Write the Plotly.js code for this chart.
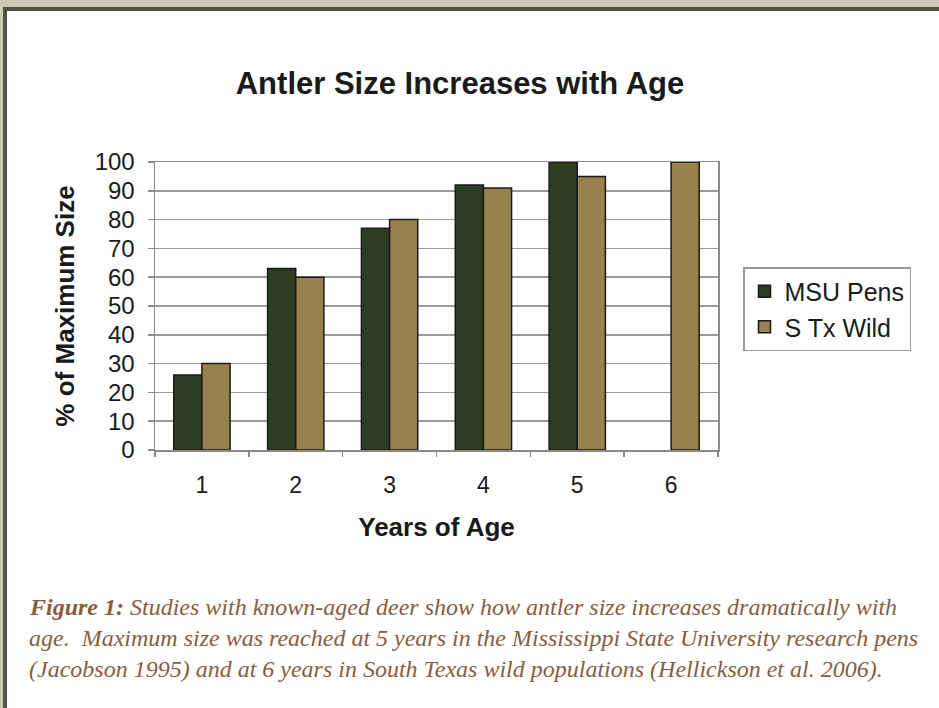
<!DOCTYPE html>
<html>
<head>
<meta charset="utf-8">
<script src="https://cdn.plot.ly/plotly-3.0.1.min.js"></script>
<style>
  html, body { margin: 0; padding: 0; width: 939px; height: 708px; overflow: hidden; background: #CDCAB4; }
  #frame { position: absolute; left: 3px; top: 7px; width: 940px; height: 710px; background: #ffffff;
           border-top: 4px solid #4E5540; border-left: 4px solid #4E5540; box-sizing: border-box; }
  #chart { position: absolute; left: 0; top: 0; width: 939px; height: 708px; }
</style>
</head>
<body>
<div id="frame"></div>
<div id="chart"></div>
<script>
// ---- data ----
const years = ['1', '2', '3', '4', '5', '6'];
const msuPens = [26, 63, 77, 92, 100, null];
const sTxWild = [30, 60, 80, 91, 95, 100];
const seriesNames = ['MSU Pens', 'S Tx Wild'];
const yTicks = [0, 10, 20, 30, 40, 50, 60, 70, 80, 90, 100];
const chartTitle = 'Antler Size Increases with Age';
const xTitle = 'Years of Age';
const yTitle = '% of Maximum Size';
const captionLines = [
  '<b>Figure 1:</b> Studies with known-aged deer show how antler size increases dramatically with',
  'age.  Maximum size was reached at 5 years in the Mississippi State University research pens',
  '(Jacobson 1995) and at 6 years in South Texas wild populations (Hellickson et al. 2006).'
];

// ---- layout geometry (pixels) ----
const W = 939, H = 708;
const M = { l: 155, r: 939 - 718, t: 162, b: 708 - 450 };
const pw = W - M.l - M.r, ph = H - M.t - M.b;
const px2x = px => (px - M.l) / pw;
const py2y = py => (H - M.b - py) / ph;

const colors = ['#2C3D22', '#98814D'];
const sansFont = 'Liberation Sans, Arial, sans-serif';

const traces = [
  { type: 'bar', name: seriesNames[0], x: years, y: msuPens,
    marker: { color: colors[0], line: { color: '#1a1a1a', width: 1.5 } } },
  { type: 'bar', name: seriesNames[1], x: years, y: sTxWild,
    marker: { color: colors[1], line: { color: '#1a1a1a', width: 1.5 } } }
];

const captionY = [607, 638, 669];
const annotations = captionLines.map((t, i) => ({
  text: t, xref: 'paper', yref: 'paper', x: px2x(27), y: py2y(captionY[i]),
  xanchor: 'left', yanchor: 'middle', showarrow: false, align: 'left',
  font: { family: 'Liberation Serif, DejaVu Serif, serif', size: 24, color: '#8A5C3E', style: 'italic' }
}));

const layout = {
  width: W, height: H,
  margin: M,
  paper_bgcolor: 'rgba(0,0,0,0)',
  plot_bgcolor: '#ffffff',
  showlegend: true,
  barmode: 'group', bargap: 0.4, bargroupgap: 0,
  title: { text: chartTitle, x: 460 / W, xref: 'container', xanchor: 'center',
           y: 1 - 83 / H, yref: 'container', yanchor: 'middle',
           font: { family: sansFont, size: 31, color: '#1a1a1a', weight: 'bold' } },
  xaxis: {
    type: 'category',
    showline: true, linecolor: '#8a8a8a', linewidth: 1.5, mirror: true,
    ticks: 'outside', tickson: 'boundaries', ticklen: 5, tickcolor: '#8a8a8a', tickwidth: 1.5,
    ticklabelstandoff: 14,
    tickfont: { family: sansFont, size: 23, color: '#1a1a1a' },
    showgrid: false,
    title: { text: xTitle, standoff: 20, font: { family: sansFont, size: 26, color: '#1a1a1a', weight: 'bold' } }
  },
  yaxis: {
    range: [0, 100], tickvals: yTicks, ticktext: yTicks.map(String),
    showline: true, linecolor: '#8a8a8a', linewidth: 1.5, mirror: true,
    ticks: 'outside', ticklen: 6, tickcolor: '#8a8a8a', tickwidth: 1.5,
    ticklabelstandoff: 8,
    tickfont: { family: sansFont, size: 24, color: '#1a1a1a' },
    showgrid: true, gridcolor: '#9a9a9a', gridwidth: 1.6,
    zeroline: false,
    title: { text: yTitle, standoff: 12, font: { family: sansFont, size: 26, color: '#1a1a1a', weight: 'bold' } }
  },
  legend: {
    x: px2x(743), y: py2y(267), xanchor: 'left', yanchor: 'top',
    bgcolor: '#ffffff', bordercolor: '#9a9a9a', borderwidth: 1.5,
    font: { family: sansFont, size: 25, color: '#1a1a1a' },
    traceorder: 'normal', itemwidth: 30
  },
  annotations: annotations
};

Plotly.newPlot('chart', traces, layout, { displayModeBar: false, staticPlot: true });
</script>
</body>
</html>
